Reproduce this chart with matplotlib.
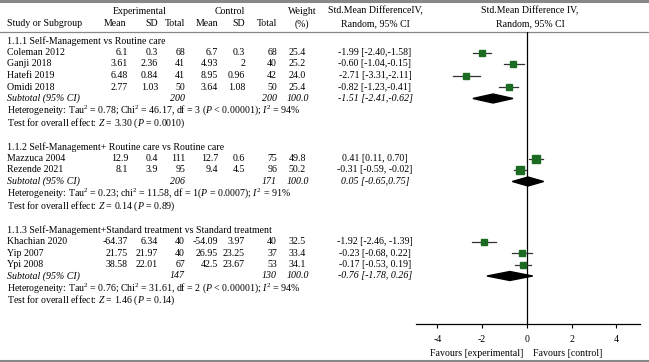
import matplotlib
matplotlib.use('Agg')
import matplotlib.pyplot as plt
from matplotlib.patches import Polygon

plt.rcParams['font.family'] = ['Liberation Serif', 'DejaVu Serif']
plt.rcParams['mathtext.fontset'] = 'custom'
plt.rcParams['mathtext.rm'] = 'Liberation Serif'
plt.rcParams['mathtext.it'] = 'Liberation Serif:italic'

# ---- data ----
group_titles = ['1.1.1 Self-Management vs Routine care',
                '1.1.2 Self-Management+ Routine care vs Routine care',
                '1.1.3 Self-Management+Standard treatment vs Standard treatment']
studies = [['Coleman 2012', 'Ganji 2018', 'Hatefi 2019', 'Omidi 2018'],
           ['Mazzuca 2004', 'Rezende 2021'],
           ['Khachian 2020', 'Yip 2007', 'Ypi 2008']]
exp_mean = [[6.1, 3.61, 6.48, 2.77], [12.9, 8.1], [-64.37, 21.75, 38.58]]
exp_sd = [[0.3, 2.36, 0.84, 1.03], [0.4, 3.9], [6.34, 21.97, 22.01]]
exp_n = [[68, 41, 41, 50], [111, 95], [40, 40, 67]]
ctl_mean = [[6.7, 4.93, 8.95, 3.64], [12.7, 9.4], [-54.09, 26.95, 42.5]]
ctl_sd = [[0.3, 2, 0.96, 1.08], [0.6, 4.5], [3.97, 23.25, 23.67]]
ctl_n = [[68, 40, 42, 50], [75, 96], [40, 37, 53]]
weight = [[25.4, 25.2, 24.0, 25.4], [49.8, 50.2], [32.5, 33.4, 34.1]]
smd = [[-1.99, -0.60, -2.71, -0.82], [0.41, -0.31], [-1.92, -0.23, -0.17]]
ci_lo = [[-2.40, -1.04, -3.31, -1.23], [0.11, -0.59], [-2.46, -0.68, -0.53]]
ci_hi = [[-1.58, -0.15, -2.11, -0.41], [0.70, -0.02], [-1.39, 0.22, 0.19]]
sub_exp_n = [200, 206, 147]
sub_ctl_n = [200, 171, 130]
sub_smd = [-1.51, 0.05, -0.76]
sub_lo = [-2.41, -0.65, -1.78]
sub_hi = [-0.62, 0.75, 0.26]
heterogeneity = [r'Heterogeneity: Tau$^2$ = 0.78; Chi$^2$ = 46.17, df = 3 ($P$ < 0.00001); $I^2$ = 94%',
                 r'Heterogeneity: Tau$^2$ = 0.23; chi$^2$ = 11.58, df = 1($P$ = 0.0007); $I^2$ = 91%',
                 r'Heterogeneity: Tau$^2$ = 0.76; Chi$^2$ = 31.61, df = 2 ($P$ < 0.00001); $I^2$ = 94%']
overall = [r'Test for overall effect: $Z$ = 3.30 ($P$ = 0.0010)',
           r'Test for overall effect: $Z$ = 0.14 ($P$ = 0.89)',
           r'Test for overall effect: $Z$ = 1.46 ($P$ = 0.14)']
ci_sep = [',', ', ', ', ']
sub_sep = [',', ',', ', ']
xticks = [-4, -2, 0, 2, 4]

# ---- layout (pixels) ----
W, H = 649, 362
group_top = [41, 147, 230]
step = 11.5
fs = 7.1
green = '#1b6b22'

fig = plt.figure(figsize=(W / 100, H / 100), dpi=100)
tab = fig.add_axes([0, 0, 1, 1])
tab.set_xlim(0, W)
tab.set_ylim(H, 0)
tab.axis('off')

ax_left, ax_right, ax_top, ax_bot = 416, 640, 32, 324
ax = fig.add_axes([ax_left / W, 1 - ax_bot / H, (ax_right - ax_left) / W, (ax_bot - ax_top) / H])
ax.set_xlim(-4.95, 5.05)
ax.set_ylim(ax_bot, ax_top)
ax.patch.set_alpha(0)
for s in ['top', 'right', 'left']:
    ax.spines[s].set_visible(False)
ax.spines['bottom'].set_linewidth(0.9)
ax.set_yticks([])
ax.set_xticks(xticks)
ax.set_xticklabels([str(t) for t in xticks], fontsize=fs)
ax.tick_params(axis='x', length=3, width=0.8, pad=5)
ax.axvline(0, color='black', lw=0.9)

# rules
tab.plot([0, W], [0.8, 0.8], color='#888888', lw=2.2)
tab.plot([0, W], [32, 32], color='#888888', lw=0.9)
tab.plot([0, W], [360.5, 360.5], color='#888888', lw=2.2)

# headers
def t(x, y, s, ha='left', style='normal'):
    tab.text(x, y, s, ha=ha, va='center', fontsize=fs, style=style)

t(140, 11, 'Experimental', 'center')
t(230, 11, 'Control', 'center')
t(302, 11, 'Weight', 'center')
t(302, 24, '(%)', 'center')
t(375, 11, 'Std.Mean DifferenceIV,', 'center')
t(375, 24, 'Random, 95% CI', 'center')
t(530, 11, 'Std.Mean Difference IV,', 'center')
t(530, 24, 'Random, 95% CI', 'center')
t(7, 24, 'Study or Subgroup')
t(115, 24, 'Mean', 'center')
t(158, 24, 'SD', 'right')
t(175, 24, 'Total', 'center')
t(207, 24, 'Mean', 'center')
t(245, 24, 'SD', 'right')
t(267, 24, 'Total', 'center')

for g in range(3):
    y = group_top[g]
    t(7, y, group_titles[g])
    for i in range(len(studies[g])):
        y += step
        t(7, y, studies[g][i])
        t(128, y, '{:g}'.format(exp_mean[g][i]), 'right')
        t(158, y, '{:g}'.format(exp_sd[g][i]), 'right')
        t(185, y, str(exp_n[g][i]), 'right')
        t(218, y, '{:g}'.format(ctl_mean[g][i]), 'right')
        t(245, y, '{:g}'.format(ctl_sd[g][i]), 'right')
        t(277, y, str(ctl_n[g][i]), 'right')
        t(297, y, '{:.1f}'.format(weight[g][i]), 'center')
        t(375, y, '{:.2f} [{:.2f}{}{:.2f}]'.format(smd[g][i], ci_lo[g][i], ci_sep[g], ci_hi[g][i]), 'center')
        ax.plot([ci_lo[g][i], ci_hi[g][i]], [y, y], color='#333333', lw=0.9)
        ax.plot(smd[g][i], y, 's', color=green, ms=2.6 + weight[g][i] * 0.06, mec=green)
    y += step
    t(7, y, 'Subtotal (95% CI)', style='italic')
    t(185, y, str(sub_exp_n[g]), 'right', 'italic')
    t(277, y, str(sub_ctl_n[g]), 'right', 'italic')
    t(298, y, '100.0', 'center', 'italic')
    t(375, y, '{:.2f} [{:.2f}{}{:.2f}]'.format(sub_smd[g], sub_lo[g], sub_sep[g], sub_hi[g]), 'center', 'italic')
    ax.add_patch(Polygon([[sub_lo[g], y], [sub_smd[g], y - 4.5], [sub_hi[g], y], [sub_smd[g], y + 4.5]],
                         closed=True, color='black'))
    y += step + 0.5
    t(7, y, heterogeneity[g])
    y += step + 1
    t(7, y, overall[g])

t(523, 354, 'Favours [experimental]', 'right')
t(533, 354, 'Favours [control]')

fig.savefig('out.png', dpi=100)
